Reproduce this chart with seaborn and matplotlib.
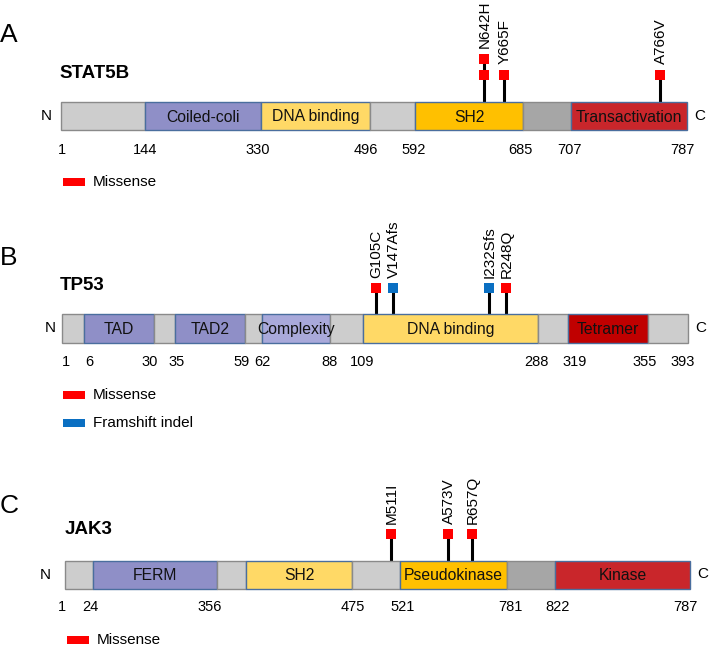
import matplotlib
matplotlib.use("Agg")
import matplotlib.pyplot as plt
import seaborn as sns
import pandas as pd

# ---------------- data ----------------
# schematic coordinates (the drawing is not to scale)
stat5b_bounds = [61, 145, 261, 370, 415, 523, 571, 687]
stat5b_domains = ["", "Coiled-coli", "DNA binding", "", "SH2", "", "Transactivation"]
stat5b_kinds = ["gray", "purple", "yellow", "gray", "orange", "dgray", "red"]
stat5b_ticks = ["1", "144", "330", "496", "592", "685", "707", "787"]
stat5b_tick_x = [62, 145, 258, 366, 414, 520, 569, 682]
stat5b_muts = ["N642H", "Y665F", "A766V"]
stat5b_mut_x = [484, 504, 660]
stat5b_mut_type = ["Missense", "Missense", "Missense"]
stat5b_mut_count = [2, 1, 1]

tp53_bounds = [62, 84, 154, 175, 245, 262, 330, 363, 538, 568, 648, 688]
tp53_domains = ["", "TAD", "", "TAD2", "", "Complexity", "", "DNA binding", "", "Tetramer", ""]
tp53_kinds = ["gray", "purple", "gray", "purple", "gray", "lpurple", "gray", "yellow", "gray", "dred", "gray"]
tp53_ticks = ["1", "6", "30", "35", "59", "62", "88", "109", "288", "319", "355", "393"]
tp53_tick_x = [66, 89, 150, 177, 242, 262, 330, 362, 536, 575, 645, 683]
tp53_muts = ["G105C", "V147Afs", "I232Sfs", "R248Q"]
tp53_mut_x = [376, 393, 489, 506]
tp53_mut_type = ["Missense", "Framshift indel", "Framshift indel", "Missense"]
tp53_mut_count = [1, 1, 1, 1]

jak3_bounds = [65, 93, 217, 246, 352, 400, 507, 555, 690]
jak3_domains = ["", "FERM", "", "SH2", "", "Pseudokinase", "", "Kinase"]
jak3_kinds = ["gray", "purple", "gray", "yellow", "gray", "orange", "dgray", "red"]
jak3_ticks = ["1", "24", "356", "475", "521", "781", "822", "787"]
jak3_tick_x = [62, 90, 210, 353, 403, 510, 558, 685]
jak3_muts = ["M511I", "A573V", "R657Q"]
jak3_mut_x = [391, 448, 472]
jak3_mut_type = ["Missense", "Missense", "Missense"]
jak3_mut_count = [1, 1, 1]

# ---------------- style ----------------
fill = {"gray": "#CDCDCD", "dgray": "#A6A6A6", "purple": "#8F8FC7",
        "lpurple": "#A9A9DA", "yellow": "#FFD966", "orange": "#FFC000",
        "red": "#C9262B", "dred": "#C00000"}
edge = {"gray": "#8A8A8A", "dgray": "#8A8A8A"}
dom_edge = "#4A6E9E"
mut_col = {"Missense": "#FF0000", "Framshift indel": "#0A6FC2"}

sns.set_theme(style="white")
plt.rcParams["font.family"] = ["Liberation Sans", "DejaVu Sans"]
plt.rcParams["text.color"] = "black"

fig = plt.figure(figsize=(7.09, 6.48), dpi=100)
ax = fig.add_axes([0, 0, 1, 1])
ax.set_xlim(0, 709)
ax.set_ylim(648, 0)
ax.axis("off")


def draw_panel(letter, letter_xy, gene, gene_xy, bar_top, bar_bot, bounds, names, kinds,
               ticks, tick_x, tick_y, muts, mut_x, mut_type, mut_count, mark_y,
               label_bottom, n_xy, c_xy, legend_types, legend_x, legend_y0):
    ax.text(*letter_xy, letter, fontsize=19, ha="center", va="center", color="black")
    ax.text(*gene_xy, gene, fontsize=13.5, fontweight="bold", ha="left", va="center",
            color="black")
    h = bar_bot - bar_top
    yc = (bar_top + bar_bot) / 2
    for i, name in enumerate(names):
        k = kinds[i]
        ax.barh(yc, bounds[i + 1] - bounds[i], left=bounds[i], height=h,
                color=fill[k], edgecolor=edge.get(k, dom_edge), linewidth=1.0, zorder=2)
        if name:
            ax.text((bounds[i] + bounds[i + 1]) / 2, yc + 1, name, fontsize=11.3,
                    ha="center", va="center", color="#111111", zorder=3)
    for t, x in zip(ticks, tick_x):
        ax.text(x, tick_y, t, fontsize=10.5, ha="center", va="center", color="black")
    ax.text(*n_xy, "N", fontsize=11, ha="center", va="center", color="black")
    ax.text(*c_xy, "C", fontsize=11, ha="center", va="center", color="black")
    # mutation stems and markers
    rows = []
    for m, x, t, c in zip(muts, mut_x, mut_type, mut_count):
        top = mark_y - 16 * (c - 1)
        ax.vlines(x, top, bar_top, color="black", linewidth=2.2, zorder=1)
        for j in range(c):
            rows.append({"x": x, "y": mark_y - 16 * j, "type": t})
        ax.text(x + 0.5, label_bottom - 16 * (c - 1), m, rotation=90, fontsize=11,
                ha="center", va="bottom", color="black")
    df = pd.DataFrame(rows)
    sns.scatterplot(data=df, x="x", y="y", hue="type", palette=mut_col, marker="s",
                    s=50, linewidth=0, ax=ax, legend=False, zorder=4)
    for i, t in enumerate(legend_types):
        ly = legend_y0 + 28 * i
        ax.barh(ly, 22, left=legend_x, height=8, color=mut_col[t], linewidth=0)
        ax.text(legend_x + 30, ly, t, fontsize=11, ha="left", va="center", color="black")


draw_panel("A", (9, 35), "STAT5B", (59, 74), 102, 130, stat5b_bounds, stat5b_domains,
           stat5b_kinds, stat5b_ticks, stat5b_tick_x, 150, stat5b_muts, stat5b_mut_x,
           stat5b_mut_type, stat5b_mut_count, 75, 64, (46, 116), (700, 116),
           ["Missense"], 63, 182)

draw_panel("B", (9, 258), "TP53", (60, 285), 314, 343, tp53_bounds, tp53_domains,
           tp53_kinds, tp53_ticks, tp53_tick_x, 362, tp53_muts, tp53_mut_x,
           tp53_mut_type, tp53_mut_count, 288, 278, (50, 328), (701, 328),
           ["Missense", "Framshift indel"], 63, 395)

draw_panel("C", (9, 506), "JAK3", (65, 530), 561, 589, jak3_bounds, jak3_domains,
           jak3_kinds, jak3_ticks, jak3_tick_x, 607, jak3_muts, jak3_mut_x,
           jak3_mut_type, jak3_mut_count, 534, 524, (45, 575), (703, 574),
           ["Missense"], 67, 640)

ax.set_xlim(0, 709)
ax.set_ylim(648, 0)
fig.savefig("out.png", dpi=100)
